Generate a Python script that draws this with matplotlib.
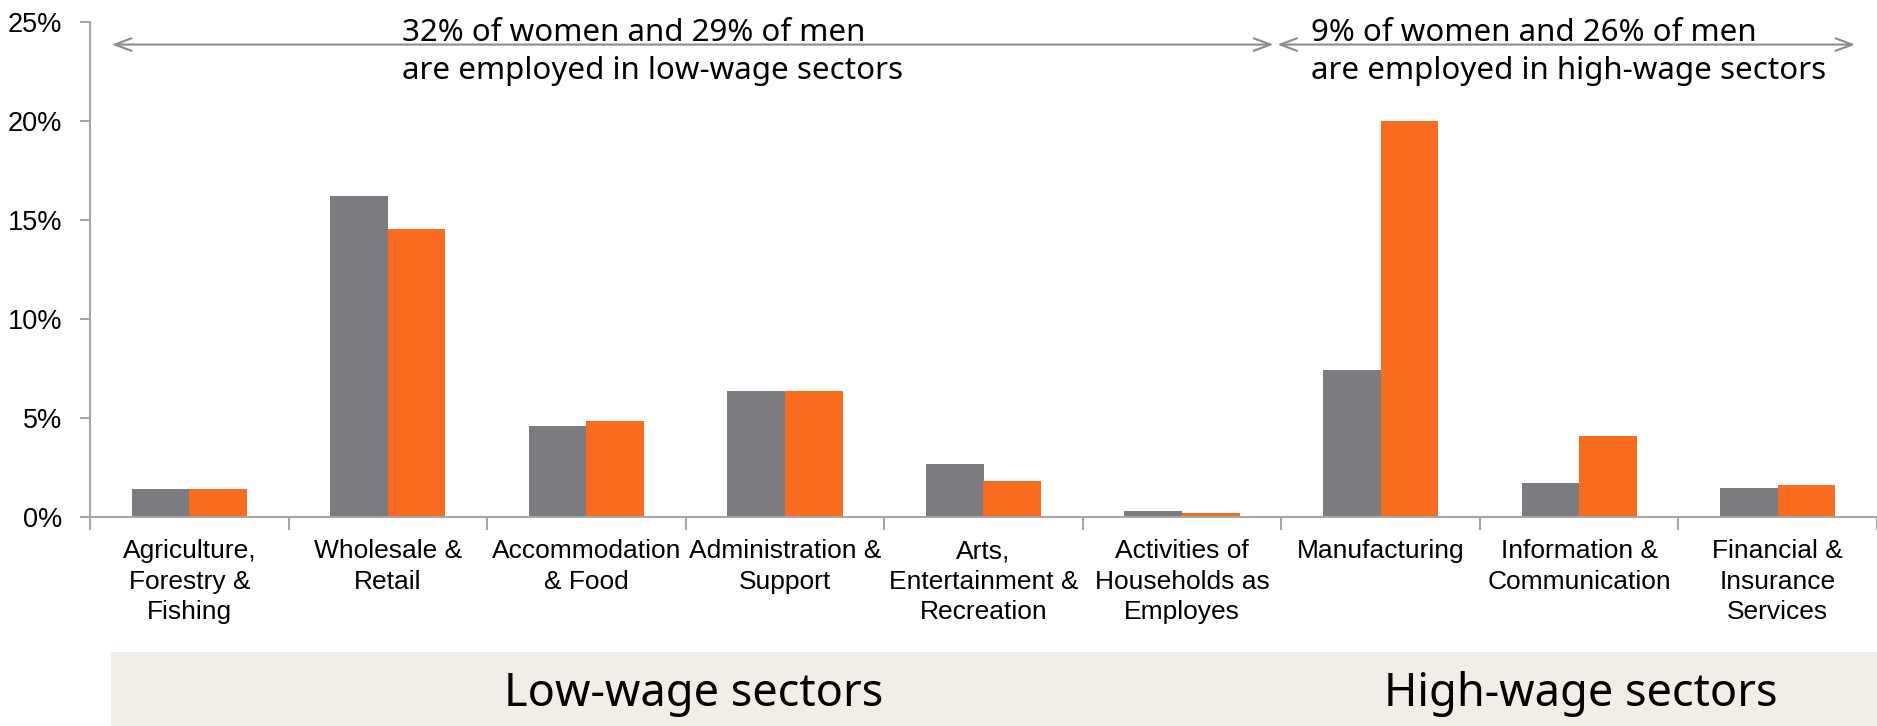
import numpy as np
import matplotlib.pyplot as plt
from matplotlib.patches import Rectangle

sectors = ['Agriculture,\nForestry &\nFishing', 'Wholesale &\nRetail', 'Accommodation\n& Food',
           'Administration &\nSupport', 'Arts,\nEntertainment &\nRecreation',
           'Activities of\nHouseholds as\nEmployes', 'Manufacturing',
           'Information &\nCommunication', 'Financial &\nInsurance\nServices']
women = [1.4, 16.2, 4.6, 6.35, 2.65, 0.3, 7.4, 1.7, 1.45]
men = [1.4, 14.55, 4.85, 6.35, 1.8, 0.2, 20.0, 4.1, 1.6]
yticks = [0, 5, 10, 15, 20, 25]

grey = '#7b7c80'
orange = '#f96b1e'
axis_col = '#a6a6a6'

fig = plt.figure(figsize=(18.77, 7.26), dpi=100)

# band behind the group labels
fig.patches.append(Rectangle((111/1877, 0), 1 - 111/1877, 74/726, transform=fig.transFigure,
                             facecolor='#f2ede7', edgecolor='none', zorder=0))
fig.text(694/1877, 32/726, 'Low-wage sectors', fontsize=32.5, family='Noto Sans',
         ha='center', va='center')
fig.text(1581/1877, 32/726, 'High-wage sectors', fontsize=32.5, family='Noto Sans',
         ha='center', va='center')

ax = fig.add_axes([90/1877, 0.288, 1 - 90/1877, 0.682])
x = np.arange(len(sectors))
w = 0.29
ax.bar(x - w/2, women, w, color=grey, zorder=2)
ax.bar(x + w/2, men, w, color=orange, zorder=2)

ax.set_xlim(-0.5, len(sectors) - 0.5)
ax.set_ylim(0, 25)
ax.set_yticks(yticks)
ax.set_yticklabels([f'{t}%' for t in yticks], fontsize=19.5, family='Liberation Sans')
ax.set_xticks(x)
ax.set_xticklabels(sectors, fontsize=19, family='Liberation Sans', linespacing=1.35)
ax.set_xticks(np.arange(-0.5, len(sectors)), minor=True)
ax.tick_params(axis='x', which='major', length=0, pad=16)
ax.tick_params(axis='x', which='minor', length=9, width=1.5, color=axis_col, direction='out')
ax.tick_params(axis='y', length=7, width=1.5, color=axis_col, pad=13)

for s in ['top', 'right']:
    ax.spines[s].set_visible(False)
for s in ['left', 'bottom']:
    ax.spines[s].set_color(axis_col)
    ax.spines[s].set_linewidth(1.5)

# arrows spanning each sector group
arrow = dict(arrowstyle='<->,head_length=1.2,head_width=0.45', color='#8c8c8c', lw=1.5,
             shrinkA=0, shrinkB=0)
ax.annotate('', xy=(-0.39, 23.85), xytext=(5.46, 23.85), arrowprops=arrow, annotation_clip=False)
ax.annotate('', xy=(5.48, 23.85), xytext=(8.39, 23.85), arrowprops=arrow, annotation_clip=False)

note_font = dict(fontsize=22.5, family='Noto Sans', ha='left', va='center')
ax.text(1.07, 24.45, '32% of women and 29% of men', **note_font)
ax.text(1.07, 22.5, 'are employed in low-wage sectors', **note_font)
ax.text(5.65, 24.45, '9% of women and 26% of men', **note_font)
ax.text(5.65, 22.5, 'are employed in high-wage sectors', **note_font)

fig.savefig('out.png', dpi=100)
